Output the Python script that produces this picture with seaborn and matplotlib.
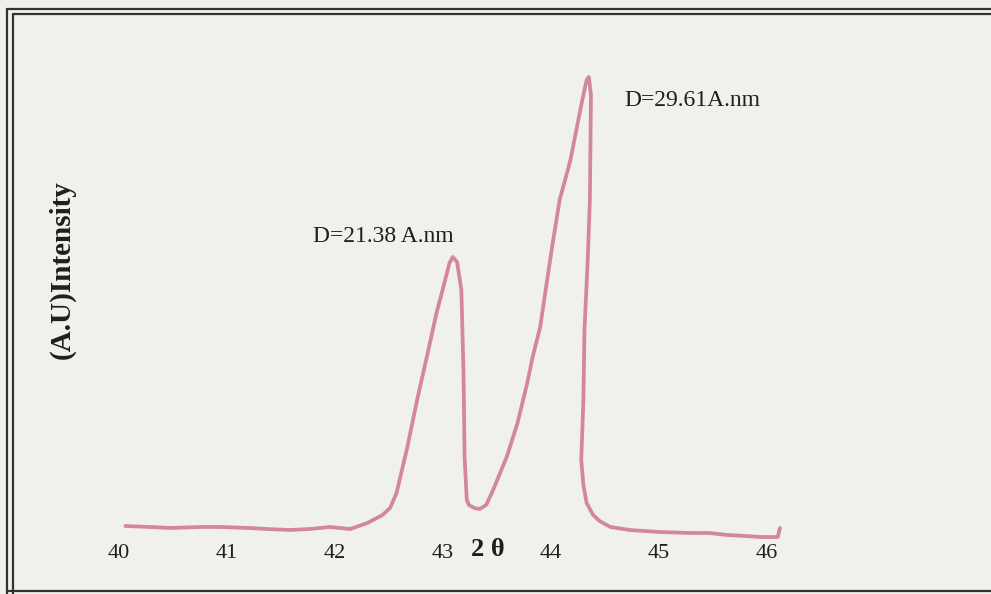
import numpy as np
import pandas as pd
import matplotlib
matplotlib.use("Agg")
import matplotlib.pyplot as plt
from matplotlib.lines import Line2D
import seaborn as sns

# ---- data (arbitrary intensity units) ----
two_theta = [40.06, 40.29, 40.47, 40.75, 40.94, 41.21, 41.37, 41.58, 41.77, 41.95,
             42.14, 42.30, 42.44, 42.51, 42.57, 42.67, 42.76, 42.85, 42.94, 43.02,
             43.06, 43.09, 43.13, 43.17, 43.19, 43.20, 43.22, 43.24, 43.29, 43.34,
             43.40, 43.46,
             43.59, 43.69, 43.78, 43.83, 43.90, 43.96, 44.01, 44.08, 44.18, 44.24,
             44.29, 44.33, 44.35, 44.37, 44.36, 44.34, 44.31, 44.30, 44.28, 44.30,
             44.33, 44.39, 44.45, 44.55, 44.73, 45.01, 45.29, 45.47, 45.63, 45.80,
             45.94, 46.10, 46.12]
intensity = [34, 33, 32, 33, 33, 32, 31, 30, 31, 33,
             31, 37, 45, 52, 67, 113, 160, 203, 247, 280,
             297, 303, 298, 270, 187, 103, 60, 55, 52, 51,
             55, 69,
             103, 137, 177, 203, 233, 277, 313, 360, 400, 433,
             460, 480, 483, 465, 360, 300, 230, 160, 100, 75,
             57, 45, 39, 33, 30, 28, 27, 27, 25, 24,
             23, 23, 32]
tick_values = [40, 41, 42, 43, 44, 45, 46]
tick_labels = ["40", "41", "42", "43", "44", "45", "46"]
peak_labels = ["D=21.38 A.nm", "D=29.61A.nm"]
peak_label_pos = [(42.45, 323), (45.31, 459)]

df = pd.DataFrame({"two_theta": two_theta, "intensity": intensity,
                   "order": np.arange(len(two_theta))})

sns.set_theme(style="white")
paper = "#f0f0ec"
plt.rcParams["font.family"] = ["Liberation Serif", "DejaVu Serif"]

W, H = 991, 594
fig = plt.figure(figsize=(W / 100, H / 100), dpi=100, facecolor=paper)
ax_left, ax_right, ax_top, ax_bot = 19.8, 976.0, 20.0, 540.0
ax = fig.add_axes([ax_left / W, 1 - ax_bot / H, (ax_right - ax_left) / W,
                   (ax_bot - ax_top) / H])
ax.set_facecolor(paper)

sns.lineplot(data=df, x="two_theta", y="intensity", sort=False, estimator=None,
             color="#d3879b", linewidth=2.7, ax=ax,
             solid_joinstyle="round", solid_capstyle="round")

ax.set_xlim(40 - (119 - ax_left) / 108, 40 + (ax_right - 119) / 108)
ax.set_ylim(560 - ax_bot, 560 - ax_top)

for s in ax.spines.values():
    s.set_visible(False)
ax.set_xticks(tick_values)
ax.set_xticklabels(tick_labels, fontsize=16)
ax.set_yticks([])
ax.tick_params(axis="x", length=0, pad=3, colors="#1e1e1e")

ax.set_xlabel("2 θ", fontsize=19, fontweight="bold", color="#1e1e1e")
ax.xaxis.set_label_coords((488 - ax_left) / (ax_right - ax_left),
                          (ax_bot - 550) / (ax_bot - ax_top))
ax.xaxis.label.set_va("center")
ax.set_ylabel("(A.U)Intensity", fontsize=21, fontweight="bold", color="#1e1e1e")
ax.yaxis.set_label_coords((62 - ax_left) / (ax_right - ax_left),
                          (ax_bot - 270) / (ax_bot - ax_top))
ax.yaxis.label.set_va("center")

for txt, (px, py) in zip(peak_labels, peak_label_pos):
    ax.text(px, py, txt, fontsize=17, ha="center", va="center", color="#1e1e1e")

# double-line paper frame
def fl(x0, y0, x1, y1, lw=1.6):
    fig.add_artist(Line2D([x0 / W, x1 / W], [1 - y0 / H, 1 - y1 / H],
                          transform=fig.transFigure, color="#333333", lw=lw))

fl(7, 9, 7, 594)
fl(12.5, 14, 12.5, 594)
fl(7, 9, 991, 9)
fl(12.5, 14, 991, 14)
fl(7, 591, 991, 591)

fig.savefig("out.png", dpi=100, facecolor=paper)
